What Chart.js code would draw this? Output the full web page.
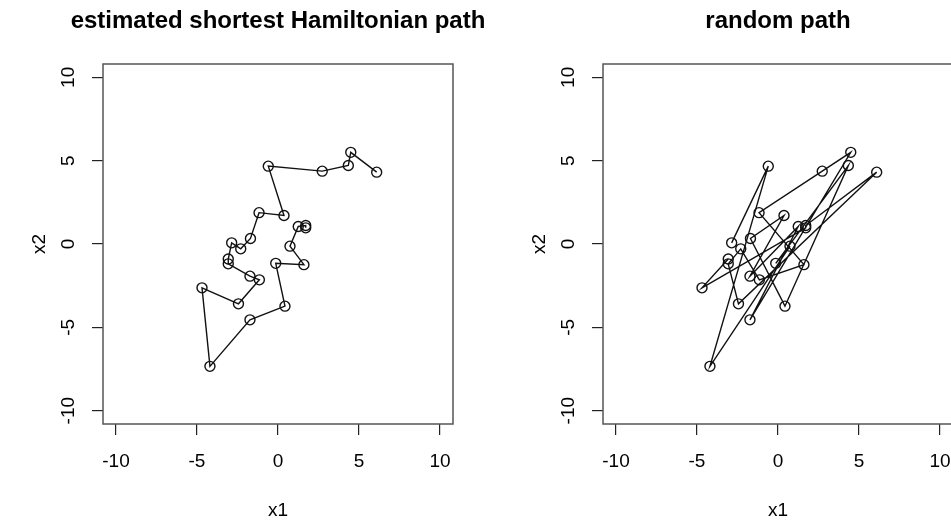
<!DOCTYPE html>
<html>
<head>
<meta charset="utf-8">
<script src="https://cdn.jsdelivr.net/npm/chart.js@4"></script>
<style>
  body{margin:0;background:#fff;overflow:hidden;width:951px;height:521px;position:relative}
  canvas{position:absolute;top:0}
  #left{left:0}
  #right{left:500px}
</style>
</head>
<body>
<canvas id="left" width="500" height="521"></canvas>
<canvas id="right" width="476" height="521"></canvas>
<script>
// points (x1, x2), numbered 1..25
var x1 = [4.49, 4.34, 6.09, -0.60, 2.73, 0.37, -1.17, -1.70, -2.86, -2.30, 1.25, 1.71, 1.71, 0.74, -3.07, -3.07, -0.14, 1.60, -1.73, -1.15, -4.69, -2.44, 0.43, -1.73, -4.20];
var x2 = [5.50, 4.71, 4.31, 4.67, 4.37, 1.71, 1.88, 0.33, 0.07, -0.29, 1.05, 1.11, 0.97, -0.13, -0.90, -1.19, -1.16, -1.24, -1.93, -2.15, -2.63, -3.59, -3.73, -4.55, -7.34];

// visiting order of the points (1-based)
var shortOrder = [3, 1, 2, 5, 4, 6, 7, 8, 10, 9, 15, 16, 19, 20, 22, 21, 25, 24, 23, 17, 18, 14, 11, 12, 13];
var randomOrder = [9, 4, 25, 14, 17, 2, 23, 8, 6, 19, 11, 24, 1, 5, 7, 18, 20, 10, 16, 22, 3, 12, 13, 21, 15];

var tickVals = [-10, -5, 0, 5, 10];
var titles = ["estimated shortest Hamiltonian path", "random path"];

function pathData(order){
  var d = [];
  for (var i = 0; i < order.length; i++) {
    d.push({x: x1[order[i]-1], y: x2[order[i]-1]});
  }
  return d;
}

var FONT = "'Liberation Sans', Arial, sans-serif";

var rPlot = {
  id: 'rPlot',
  afterDraw: function(chart){
    var ctx = chart.ctx, a = chart.chartArea;
    var xs = chart.scales.x, ys = chart.scales.y;
    ctx.save();
    // box
    ctx.strokeStyle = '#555';
    ctx.lineWidth = 1.5;
    ctx.strokeRect(a.left, a.top, a.right - a.left, a.bottom - a.top);
    ctx.fillStyle = '#000';
    ctx.font = '19px ' + FONT;
    ctx.textAlign = 'center';
    ctx.textBaseline = 'middle';
    tickVals.forEach(function(v){
      ctx.fillText(String(v), xs.getPixelForValue(v), 462);
    });
    tickVals.forEach(function(v){
      ctx.save();
      ctx.translate(69, ys.getPixelForValue(v));
      ctx.rotate(-Math.PI/2);
      ctx.fillText(String(v), 0, 0);
      ctx.restore();
    });
    ctx.fillText('x1', (a.left + a.right)/2, 511);
    ctx.save();
    ctx.translate(40, (a.top + a.bottom)/2);
    ctx.rotate(-Math.PI/2);
    ctx.fillText('x2', 0, 0);
    ctx.restore();
    ctx.font = 'bold 24px ' + FONT;
    ctx.fillText(chart.options.plugins.rTitle.text, (a.left + a.right)/2, 21);
    ctx.restore();
  }
};

function makeChart(id, order, title, padRight){
  var tickScale = {
    type: 'linear',
    min: -10.8,
    max: 10.8,
    afterBuildTicks: function(s){ s.ticks = tickVals.map(function(v){ return {value: v}; }); },
    ticks: {display: false},
    border: {display: false},
    grid: {drawOnChartArea: false, drawTicks: true, tickLength: 11, color: '#222', lineWidth: 1.2}
  };
  var xScale = Object.assign({}, tickScale, {position: 'bottom', afterFit: function(s){ s.height = 521 - 424; }});
  var yScale = Object.assign({}, tickScale, {position: 'left', afterFit: function(s){ s.width = 103; }});
  return new Chart(document.getElementById(id), {
    type: 'scatter',
    data: {
      datasets: [{
        data: pathData(order),
        showLine: true,
        borderColor: '#111',
        borderWidth: 1.4,
        pointRadius: 5,
        pointBorderWidth: 1.4,
        pointBorderColor: '#111',
        pointBackgroundColor: 'rgba(0,0,0,0)',
        tension: 0
      }]
    },
    options: {
      responsive: false,
      animation: false,
      layout: {padding: {top: 64, right: padRight, left: 0, bottom: 0}},
      scales: {x: xScale, y: yScale},
      plugins: {legend: {display: false}, tooltip: {enabled: false}, rTitle: {text: title}}
    },
    plugins: [rPlot]
  });
}

makeChart('left', shortOrder, titles[0], 47);
makeChart('right', randomOrder, titles[1], 23);
</script>
</body>
</html>
